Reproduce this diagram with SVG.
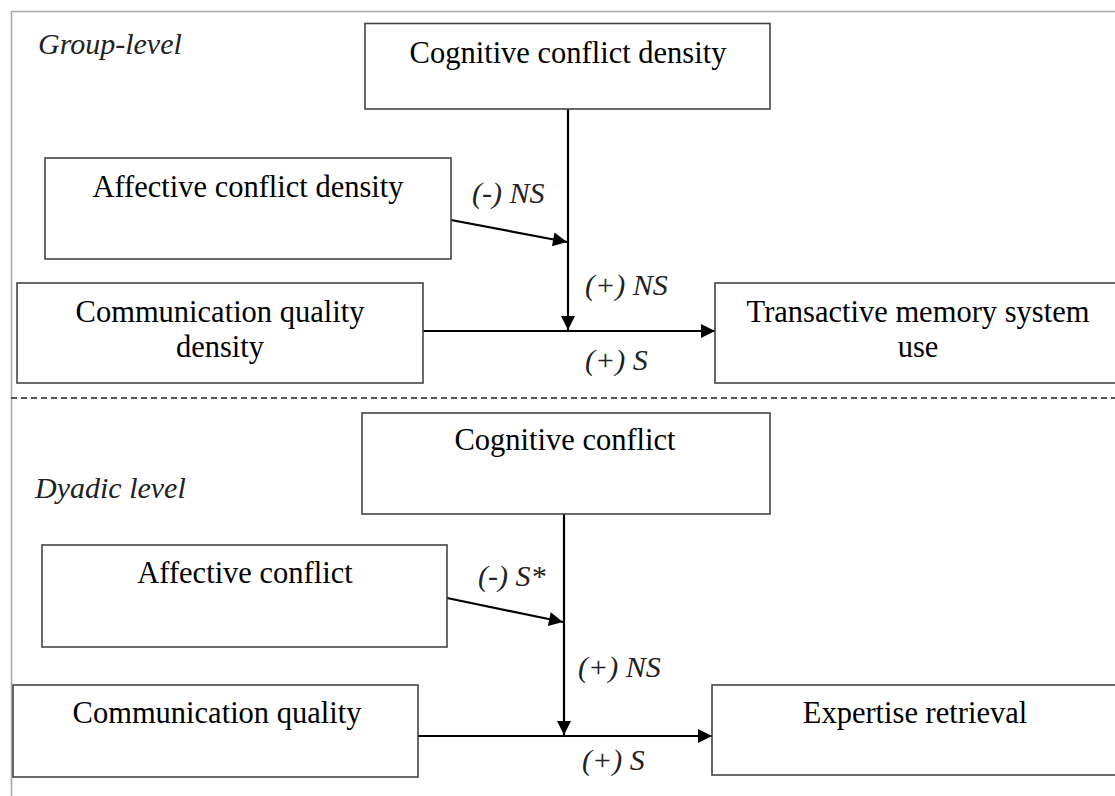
<svg xmlns="http://www.w3.org/2000/svg" width="1115" height="796" viewBox="0 0 1115 796">
<style>
.box{fill:#fff;stroke:#444;stroke-width:1.6}
.t{font-family:"Liberation Serif","DejaVu Serif","Times New Roman",serif;font-size:30.5px;fill:#000;text-anchor:middle}
.lab{font-family:"Liberation Serif","DejaVu Serif","Times New Roman",serif;font-size:30px;font-style:italic;fill:#222}
.c{stroke:#000;stroke-width:2.2;fill:none;marker-end:url(#ah)}
.frame{stroke:#aaa;stroke-width:1.6;fill:none}
</style>
<defs>
<marker id="ah" viewBox="0 0 10 10" refX="10" refY="5" markerUnits="userSpaceOnUse" markerWidth="15" markerHeight="14" orient="auto">
<path d="M0,0 L10,5 L0,10 z" fill="#000"/>
</marker>
</defs>
<rect width="1115" height="796" fill="#fff"/>
<g id="frame">
<path class="frame" d="M11.5,796 V11.5 H1115"/>
<line x1="11" y1="398" x2="1115" y2="398" stroke="#555" stroke-width="2" stroke-dasharray="6,4"/>
<text class="lab" x="38" y="54">Group-level</text>
<text class="lab" x="35" y="498">Dyadic level</text>
</g>
<g id="connectors">
<line class="c" x1="568" y1="109" x2="568" y2="330"/>
<line class="c" x1="451" y1="220" x2="567" y2="242"/>
<line class="c" x1="423" y1="331" x2="715" y2="331"/>
<line class="c" x1="564" y1="514" x2="564" y2="735"/>
<line class="c" x1="447" y1="598" x2="563" y2="622"/>
<line class="c" x1="418" y1="736" x2="712" y2="736"/>
<text class="lab" x="472" y="203">(-) NS</text>
<text class="lab" x="585" y="295">(+) NS</text>
<text class="lab" x="585" y="370">(+) S</text>
<text class="lab" x="478" y="586">(-) S*</text>
<text class="lab" x="578" y="677">(+) NS</text>
<text class="lab" x="582" y="770">(+) S</text>
</g>
<g id="n1"><rect class="box" x="365" y="23.5" width="405" height="85.5"/><text class="t" x="568" y="63">Cognitive conflict density</text></g>
<g id="n2"><rect class="box" x="45" y="158" width="406" height="101"/><text class="t" x="248" y="197">Affective conflict density</text></g>
<g id="n3"><rect class="box" x="17" y="283" width="406" height="100"/><text class="t" x="220" y="322">Communication quality</text><text class="t" x="220" y="357">density</text></g>
<g id="n4"><rect class="box" x="715" y="283" width="410" height="100"/><text class="t" x="918" y="322">Transactive memory system</text><text class="t" x="918" y="357">use</text></g>
<g id="n5"><rect class="box" x="362" y="413" width="408" height="101"/><text class="t" x="565" y="450">Cognitive conflict</text></g>
<g id="n6"><rect class="box" x="42" y="545" width="405" height="102"/><text class="t" x="245" y="583">Affective conflict</text></g>
<g id="n7"><rect class="box" x="13" y="685" width="405" height="92"/><text class="t" x="217" y="723">Communication quality</text></g>
<g id="n8"><rect class="box" x="712" y="685" width="413" height="90"/><text class="t" x="915" y="723">Expertise retrieval</text></g>
</svg>
